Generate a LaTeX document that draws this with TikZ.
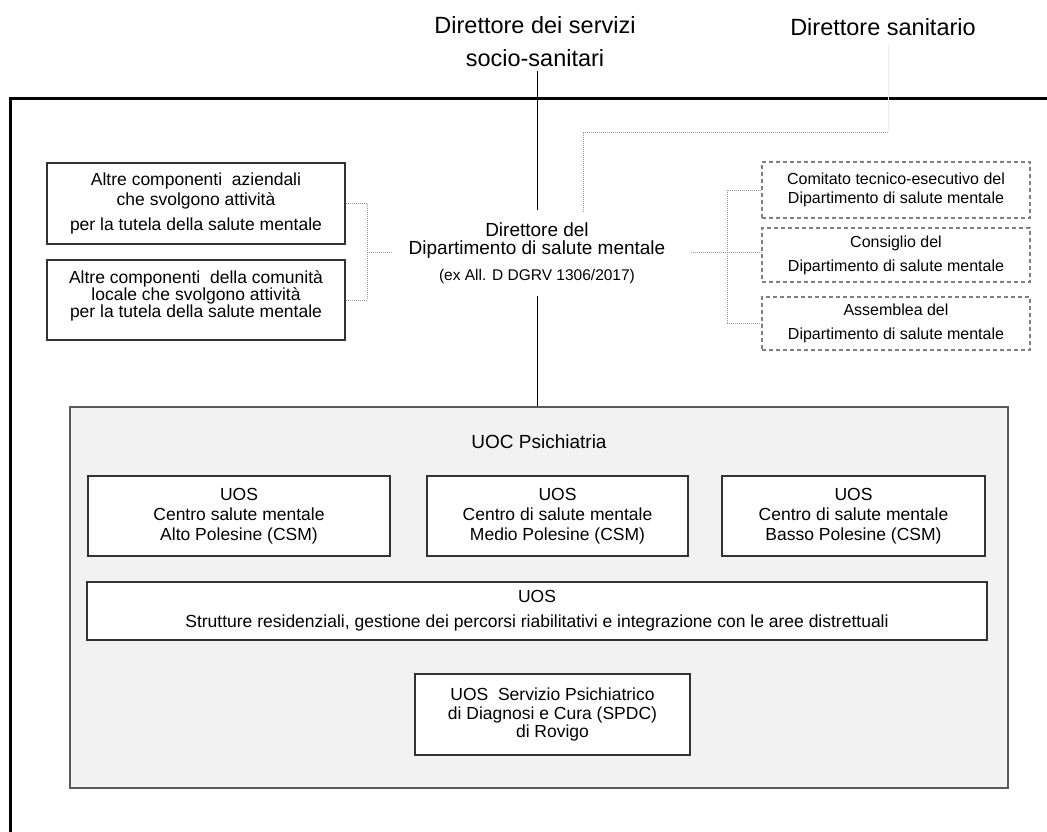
\documentclass[tikz,border=0pt]{standalone}
\usepackage{fontspec}
\setmainfont{Liberation Sans}
\newcommand{\fs}[2]{\fontsize{#1}{#2}\selectfont}
\begin{document}
\begin{tikzpicture}[x=1pt,y=-1pt,
  solidbox/.style={draw=black!80,line width=1.3pt,fill=white,inner sep=0pt,align=center},
  dashbox/.style={draw=black!50,line width=1.2pt,dash pattern=on 4pt off 3pt,inner sep=0pt,align=center},
  uocbox/.style={draw=black!65,line width=1.2pt,fill=black!5,inner sep=0pt},
  dotline/.style={draw=black!40,line width=0.8pt,dash pattern=on 1pt off 1pt},
  faintline/.style={draw=black!7,line width=0.8pt},
  txt/.style={inner sep=0pt,align=center}]
\useasboundingbox (0,0) rectangle (1047,832);
% frame
\draw[line width=3pt] (10,832) -- (10,99) -- (1047,99);

% titles
\node[txt,font=\fs{23.5}{33}] (dss) at (535,42) {Direttore dei servizi\\socio-sanitari};
\node[txt,font=\fs{23.5}{28}] (dsan) at (883,27) {Direttore sanitario};

% director
\node[txt,inner xsep=16pt,inner ysep=12pt,font=\fs{19}{18}] (dir) at (537,253)
  {Direttore del\\Dipartimento di salute mentale\\[8.5pt]\fs{15.5}{18}(ex All. D DGRV 1306/2017)};

% left boxes
\node[solidbox,minimum width=298pt,minimum height=81pt,font=\fs{17.5}{20}] (ac1) at (196,203.5)
  {Altre componenti \ aziendali\\che svolgono attività\\[5pt]per la tutela della salute mentale};
\node[solidbox,minimum width=298pt,minimum height=80pt] (ac2) at (196,300) {};
\node[txt,font=\fs{17.5}{17}] (ac2t) at (196,296)
  {Altre componenti \ della comunità\\locale che svolgono attività\\per la tutela della salute mentale};

% right dashed boxes
\node[dashbox,minimum width=268pt,minimum height=56pt,font=\fs{16}{19}] (ra) at (896,190)
  {Comitato tecnico-esecutivo del\\Dipartimento di salute mentale};
\node[dashbox,minimum width=268pt,minimum height=54pt,font=\fs{16}{24}] (rb) at (896,255)
  {Consiglio del\\Dipartimento di salute mentale};
\node[dashbox,minimum width=268pt,minimum height=53pt,font=\fs{16}{24}] (rc) at (896,323.5)
  {Assemblea del\\Dipartimento di salute mentale};

% UOC
\node[uocbox,minimum width=938pt,minimum height=381pt] (uoc) at (539,597.5) {};
\node[txt,font=\fs{19}{20}] (uoct) at (539,442) {UOC Psichiatria};
\node[solidbox,minimum width=302pt,minimum height=80pt,font=\fs{17.5}{20}] (u1) at (239,516)
  {UOS\\Centro salute mentale\\Alto Polesine (CSM)};
\node[solidbox,minimum width=261pt,minimum height=80pt,font=\fs{17.5}{20}] (u2) at (557.5,516)
  {UOS\\Centro di salute mentale\\Medio Polesine (CSM)};
\node[solidbox,minimum width=263pt,minimum height=80pt,font=\fs{17.5}{20}] (u3) at (853.5,516)
  {UOS\\Centro di salute mentale\\Basso Polesine (CSM)};
\node[solidbox,minimum width=900pt,minimum height=58pt,font=\fs{17.5}{25}] (u4) at (537,611)
  {UOS\\Strutture residenziali, gestione dei percorsi riabilitativi e integrazione con le aree distrettuali};
\node[solidbox,minimum width=275pt,minimum height=81pt,font=\fs{17.5}{18.5}] (u5) at (552.5,714.5)
  {UOS \ Servizio Psichiatrico\\di Diagnosi e Cura (SPDC)\\di Rovigo};

% solid connectors
\draw[line width=1pt] ([yshift=-4pt]dss.south -| dir.north) -- (dir.north);
\draw[line width=1pt] (dir.south) -- (dir.south |- uoc.north);

% dotted connectors left
\coordinate (lj) at (367,252);
\draw[dotline] (ac1.east) -- (ac1.east -| lj) -- (ac2.east -| lj) -- (ac2.east);
\draw[dotline] (lj) -- (lj -| dir.west);

% dotted connectors right
\coordinate (rj) at (727,252);
\draw[dotline] (ra.west) -- (ra.west -| rj) -- (rc.west -| rj) -- (rc.west);
\draw[dotline] ([xshift=9pt]rj -| dir.east) -- (rj) -- (rj -| rb.west);

% dotted from Direttore sanitario
\coordinate (dk) at (888,132);
\coordinate (dd) at (583,213);
\draw[faintline] ([yshift=-8pt]dsan.south -| dk) -- (dk);
\draw[dotline] (dk) -- (dk -| dd) -- (dd);
\end{tikzpicture}
\end{document}
